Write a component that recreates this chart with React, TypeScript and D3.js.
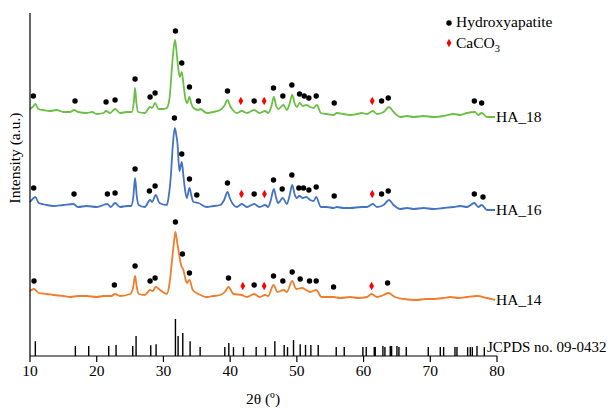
import React from "react";
import * as d3 from "d3";

type Pt = [number, number];

// 2θ (deg) vs intensity (a.u., stacked as plotted)
const ha18: Pt[] = [
  [10, 247], [10.4, 249], [10.8, 252], [11.25, 247], [12, 246], [13, 245], [14, 246], [15, 244],
  [16, 244], [16.6, 246], [17.2, 244], [18.5, 243], [19.3, 244], [20, 242], [21, 243], [21.4, 245],
  [22, 243], [22.75, 247], [23.5, 243], [24.5, 244], [25.25, 244], [25.55, 253], [25.75, 268],
  [25.95, 253], [26.2, 244], [27.2, 243], [28.0, 249], [28.3, 248], [28.75, 253], [29.25, 247],
  [30.0, 247], [30.5, 248], [30.9, 257], [31.25, 286], [31.5, 306], [31.75, 316], [32.0, 302],
  [32.2, 289], [32.45, 279], [32.75, 284], [33.0, 272], [33.3, 257], [33.55, 253], [33.9, 259],
  [34.2, 252], [34.5, 248], [35.25, 246], [35.5, 247], [36.5, 243], [37.5, 244], [38.5, 246],
  [39.1, 250], [39.6, 256], [40.0, 250], [40.4, 246], [41, 243], [41.75, 245], [42.5, 243],
  [43.6, 246], [44.4, 243], [45.25, 245], [45.7, 243], [46.2, 250], [46.55, 259], [46.9, 250],
  [47.2, 247], [48.0, 251], [48.5, 246], [48.9, 252], [49.3, 261], [49.7, 252], [50.0, 249],
  [50.4, 253], [50.9, 250], [51.4, 251], [52, 249], [52.5, 248], [53.0, 251], [53.6, 243],
  [54.5, 242], [55.5, 241], [56, 243], [57, 242], [58, 241], [59, 242], [59.7, 243], [60.5, 242],
  [61.4, 245], [62, 242], [63, 244], [63.8, 249], [64.5, 244], [65.5, 239], [66.5, 240],
  [67.5, 239], [69, 240], [70.5, 239], [72, 240], [73.5, 242], [74.5, 241], [75.5, 243],
  [76.7, 244], [77.2, 241], [77.7, 243], [78.5, 239], [79.7, 239]
];

const ha16: Pt[] = [
  [10, 154], [10.4, 157], [10.8, 159], [11.3, 153], [12.5, 151], [13.5, 150], [15, 151],
  [16.5, 152], [17.2, 149], [18.5, 150], [20, 149], [21.6, 152], [22.1, 149], [22.75, 153],
  [23.5, 149], [24.5, 150], [25.2, 150], [25.5, 160], [25.75, 178], [26.0, 160], [26.3, 151],
  [27.2, 149], [28, 156], [28.3, 154], [28.85, 161], [29.4, 153], [30.5, 151], [30.8, 160],
  [31.1, 179], [31.4, 210], [31.7, 228], [31.95, 220], [32.1, 213], [32.4, 185], [32.75, 194],
  [33.0, 180], [33.2, 168], [33.5, 158], [33.9, 168], [34.2, 160], [34.5, 154], [35.25, 153],
  [36.5, 149], [37.5, 150], [38.5, 151], [39.1, 156], [39.6, 164], [40.0, 157], [40.4, 152],
  [41, 149], [41.75, 152], [42.5, 149], [43.6, 152], [44.4, 149], [45.25, 151], [45.7, 149],
  [46.1, 156], [46.55, 167], [46.9, 158], [47.2, 153], [47.9, 158], [48.5, 152], [48.9, 160],
  [49.3, 171], [49.7, 161], [49.95, 158], [50.4, 160], [50.9, 158], [51.4, 159], [52.0, 156],
  [52.5, 155], [52.9, 159], [53.6, 149], [54.5, 149], [55.5, 148], [56, 149], [57, 148],
  [58, 148], [59.7, 149], [60.5, 149], [61.4, 152], [62, 149], [63, 151], [63.8, 156],
  [64.5, 151], [65.5, 147], [66.5, 148], [67.5, 147], [69, 148], [70.5, 147], [72, 148],
  [73.5, 149], [74.5, 150], [75.5, 149], [76.6, 153], [77.2, 149], [77.7, 151], [78.5, 146],
  [79.7, 146]
];

const ha14: Pt[] = [
  [10, 65], [10.6, 67], [11.3, 63], [12.5, 62], [13.5, 61], [15, 60], [16, 59], [17.2, 60],
  [18.5, 60], [20, 59], [21, 60], [22.2, 60], [22.75, 62], [23.5, 60], [25, 62], [25.45, 68],
  [25.75, 80], [26.0, 69], [26.3, 62], [27.2, 61], [28, 66], [28.4, 65], [28.85, 69],
  [29.5, 66], [30.5, 62], [30.9, 72], [31.25, 93], [31.55, 112], [31.8, 124], [32.05, 114],
  [32.25, 106], [32.65, 91], [33, 86], [33.3, 77], [33.5, 73], [33.9, 76], [34.4, 66],
  [35.25, 62], [36.5, 59], [37.5, 60], [38.5, 61], [39.2, 64], [39.75, 69], [40.5, 62],
  [41.75, 61], [42.5, 59], [43.6, 62], [44.4, 59], [45.25, 61], [45.7, 60], [46.5, 71],
  [47.1, 64], [48, 66], [48.5, 64], [49.3, 75], [49.9, 67], [50.75, 68], [51.4, 66], [52, 64],
  [52.9, 66], [53.7, 59], [55.5, 59], [56.5, 58], [58, 59], [59.2, 58], [60.5, 59], [61.2, 62],
  [62, 59], [63, 61], [63.7, 63], [64.7, 59], [66, 57], [68, 56], [69.3, 57], [70.5, 57],
  [72, 58], [73, 59], [74.3, 58], [75.5, 59], [77, 60], [78.5, 58], [79.7, 56]
];

// peak markers: [2θ, height]
const hapDots18: Pt[] = [
  [10.5, 260], [16.75, 255], [21.4, 254], [22.75, 256], [25.75, 277], [28, 259], [28.75, 263],
  [31.8, 325], [32.75, 293], [33.9, 269], [35.25, 255], [39.6, 265], [43.6, 255], [46.5, 268],
  [47.9, 260], [49.25, 271], [50.4, 262], [51.1, 260], [51.8, 258], [52.9, 260], [55.6, 253],
  [62.7, 255], [63.7, 258], [76.6, 255], [77.7, 253]
];
const caco3Marks18: Pt[] = [[41.6, 255], [45.1, 255], [61.3, 255]];

const hapDots16: Pt[] = [
  [10.55, 168], [16.6, 162], [21.6, 162], [22.75, 163], [25.75, 187], [27.9, 165], [28.75, 170],
  [31.65, 238], [32.75, 202], [33.9, 177], [35, 161], [39.6, 173], [43.6, 162], [46.5, 176],
  [47.8, 167], [49.25, 181], [50.3, 168], [51, 168], [51.8, 166], [52.9, 169], [55.6, 160],
  [62.7, 162], [63.7, 165], [76.6, 162], [77.9, 159]
];
const caco3Marks16: Pt[] = [[41.7, 162], [45.15, 162], [61.3, 162]];

const hapDots14: Pt[] = [
  [10.6, 75], [22.65, 71], [25.75, 90], [28, 75], [28.75, 78], [31.8, 134], [32.85, 102],
  [33.9, 83], [39.75, 78], [43.6, 71], [46.5, 80], [47.9, 75], [49.3, 84], [50.5, 77],
  [51.9, 75], [52.9, 75], [55.5, 69], [63.6, 73]
];
const caco3Marks14: Pt[] = [[41.9, 70], [45.1, 70], [61.2, 70]];

// JCPDS 09-0432 reference lines: [2θ, relative intensity]
const jcpds: Pt[] = [
  [10.8, 40], [16.8, 27], [18.8, 27], [21.8, 27], [22.9, 30], [25.4, 27], [25.9, 54], [28.1, 29],
  [28.9, 32], [31.8, 100], [32.2, 54], [32.9, 62], [34.0, 40], [35.5, 24], [39.2, 24], [39.8, 35],
  [40.5, 24], [42.0, 24], [43.9, 24], [45.3, 24], [46.7, 40], [48.1, 30], [48.6, 24], [49.5, 43],
  [50.5, 32], [51.3, 30], [52.1, 30], [53.2, 30], [55.9, 24], [57.1, 24], [59.9, 24], [60.4, 24],
  [61.6, 24], [61.75, 24], [62.9, 27], [63.2, 24], [64.0, 27], [64.2, 27], [65.0, 27], [65.3, 24],
  [66.4, 24], [69.7, 24], [71.5, 24], [72.0, 24], [73.7, 24], [74.0, 24], [75.6, 24], [76.0, 24],
  [76.3, 24], [77.0, 27], [78.1, 24]
];

const xTicks = [10, 20, 30, 40, 50, 60, 70, 80];

const series = [
  { name: "HA_18", data: ha18, color: "#6cbf46", dots: hapDots18, marks: caco3Marks18 },
  { name: "HA_16", data: ha16, color: "#4472c4", dots: hapDots16, marks: caco3Marks16 },
  { name: "HA_14", data: ha14, color: "#ef7d2c", dots: hapDots14, marks: caco3Marks14 }
];

const font = "'Liberation Serif', 'Times New Roman', serif";

export default function App() {
  const x = d3.scaleLinear().domain([10, 80]).range([30, 497]);
  const y = d3.scaleLinear().domain([0, 343]).range([356, 13]);
  const stickY = d3.scaleLinear().domain([0, 100]).range([356, 319]);
  const line = d3
    .line<Pt>()
    .x((d) => x(d[0]))
    .y((d) => y(d[1]))
    .curve(d3.curveMonotoneX);
  const diamond = d3.symbol().type(d3.symbolDiamond).size(20)() as string;

  return (
    <svg
      width={615}
      height={412}
      style={{ position: "absolute", left: 0, top: 0, background: "#fff" }}
      fontFamily={font}
      fontSize={15.5}
    >
      {/* reference sticks */}
      {jcpds.map((d, i) => (
        <line key={i} x1={x(d[0])} x2={x(d[0])} y1={stickY(0)} y2={stickY(d[1])} stroke="#000" strokeWidth={1.4} />
      ))}
      <text x={487} y={347} dy="0.35em" fontSize={15}>JCPDS no. 09-0432</text>

      {series.map((s) => (
        <g key={s.name}>
          <path d={line(s.data) as string} fill="none" stroke={s.color} strokeWidth={1.8} strokeLinejoin="round" />
          {s.dots.map((d, i) => (
            <circle key={i} cx={x(d[0])} cy={y(d[1])} r={2.7} fill="#000" />
          ))}
          {s.marks.map((d, i) => (
            <path key={i} d={diamond} transform={`translate(${x(d[0])},${y(d[1])})`} fill="#f00" />
          ))}
          <text x={x(s.data[s.data.length - 1][0]) + 1} y={y(s.data[s.data.length - 1][1])} dy="0.35em">
            {s.name}
          </text>
        </g>
      ))}

      {/* axes */}
      <line x1={30} x2={30} y1={13} y2={356} stroke="#000" strokeWidth={1.2} />
      <line x1={30} x2={497} y1={356} y2={356} stroke="#000" strokeWidth={1.2} />
      {xTicks.map((t) => (
        <g key={t}>
          <line x1={x(t)} x2={x(t)} y1={356} y2={362} stroke="#000" strokeWidth={1.2} />
          <text x={x(t)} y={371} dy="0.35em" textAnchor="middle">{t}</text>
        </g>
      ))}
      <text x={263} y={399} dy="0.35em" textAnchor="middle">2θ (º)</text>
      <text transform="translate(15,158) rotate(-90)" textAnchor="middle" dy="0.35em">Intensity (a.u.)</text>

      {/* legend */}
      <circle cx={449} cy={23} r={2.7} fill="#000" />
      <text x={456} y={22} dy="0.35em">Hydroxyapatite</text>
      <path d={diamond} transform="translate(449,43)" fill="#f00" />
      <text x={456} y={43} dy="0.35em">
        CaCO<tspan fontSize={10.5} dy="0.3em">3</tspan>
      </text>
    </svg>
  );
}
